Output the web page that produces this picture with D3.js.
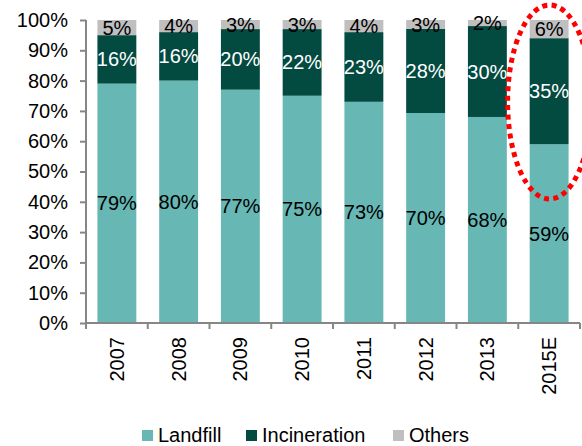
<!DOCTYPE html>
<html>
<head>
<meta charset="utf-8">
<script src="https://cdn.jsdelivr.net/npm/d3@7"></script>
<style>
  html, body { margin: 0; padding: 0; background: #fff; }
  svg { display: block; }
  text { font-family: "Liberation Sans", Arial, sans-serif; }
</style>
</head>
<body>
<svg id="chart" width="582" height="446"></svg>
<script>
// Waste treatment mix by year (shares in %)
const years = ["2007", "2008", "2009", "2010", "2011", "2012", "2013", "2015E"];
const landfill = [79, 80, 77, 75, 73, 70, 68, 59];
const incineration = [16, 16, 20, 22, 23, 28, 30, 35];
const others = [5, 4, 3, 3, 4, 3, 2, 6];
const yTicks = [0, 0.1, 0.2, 0.3, 0.4, 0.5, 0.6, 0.7, 0.8, 0.9, 1.0];

const seriesNames = ["Landfill", "Incineration", "Others"];
const seriesValues = [landfill, incineration, others];
const colors = ["#67b7b5", "#034a41", "#bfbfbf"];
const labelColors = ["#000", "#fff", "#000"];
const highlightYear = "2015E";

const rows = years.map((y, i) => {
  const r = { year: y };
  seriesNames.forEach((s, k) => { r[s] = seriesValues[k][i]; });
  return r;
});

const stack = d3.stack().keys(seriesNames).offset(d3.stackOffsetExpand);
const layers = stack(rows);

const svg = d3.select("#chart");
const plotLeft = 86, plotRight = 580, plotTop = 20, plotBottom = 323;
const fontSize = 20;

const x = d3.scaleBand().domain(years).range([plotLeft, plotRight]).paddingInner(0.37).paddingOuter(0.185);
const y = d3.scaleLinear().domain([0, 1]).range([plotBottom, plotTop]);

// bars
layers.forEach((layer, k) => {
  svg.append("g").selectAll("rect").data(layer).join("rect")
    .attr("x", d => x(d.data.year))
    .attr("width", x.bandwidth())
    .attr("y", d => y(d[1]))
    .attr("height", d => y(d[0]) - y(d[1]))
    .attr("fill", colors[k]);
});

// value labels, centred in each segment
layers.forEach((layer, k) => {
  svg.append("g").selectAll("text").data(layer).join("text")
    .attr("x", d => x(d.data.year) + x.bandwidth() / 2)
    .attr("y", d => y((d[0] + d[1]) / 2))
    .attr("dy", "0.35em")
    .attr("text-anchor", "middle")
    .attr("font-size", fontSize)
    .attr("fill", labelColors[k])
    .text(d => d.data[seriesNames[k]] + "%");
});

// y axis
const yAxis = svg.append("g").attr("transform", `translate(${plotLeft},0)`)
  .call(d3.axisLeft(y).tickValues(yTicks).tickFormat(d3.format(".0%")).tickSize(6).tickPadding(12));
yAxis.selectAll("text").attr("font-size", fontSize).attr("fill", "#000")
  .attr("font-family", "Liberation Sans, Arial, sans-serif");

// x axis with ticks on band boundaries
const xAxis = svg.append("g").attr("transform", `translate(0,${plotBottom})`);
xAxis.append("line").attr("x1", plotLeft).attr("x2", plotRight).attr("y1", 0).attr("y2", 0);
const step = x.step();
xAxis.selectAll("line.tick").data(d3.range(years.length + 1)).join("line")
  .attr("class", "tick")
  .attr("x1", i => plotLeft + i * step).attr("x2", i => plotLeft + i * step)
  .attr("y1", 0).attr("y2", 6);
xAxis.selectAll("text").data(years).join("text")
  .attr("transform", d => `translate(${x(d) + x.bandwidth() / 2},14) rotate(-90)`)
  .attr("dy", "0.35em")
  .attr("text-anchor", "end")
  .attr("font-size", fontSize)
  .attr("fill", "#000")
  .text(d => d);

svg.selectAll(".domain, g line").attr("stroke", "#868686").attr("stroke-width", 2);
yAxis.select(".domain").attr("d", `M0,${plotTop}V${plotBottom}`).attr("fill", "none");

// dotted highlight around the estimate
const hx = x(highlightYear) + x.bandwidth() / 2;
svg.append("ellipse")
  .attr("cx", hx + 0.5).attr("cy", 102)
  .attr("rx", 42).attr("ry", 97)
  .attr("fill", "none")
  .attr("stroke", "#ff0000")
  .attr("stroke-width", 5)
  .attr("stroke-dasharray", "5 4.5");

// legend
const legendX = [142, 246, 393];
const legend = svg.append("g");
seriesNames.forEach((s, k) => {
  legend.append("rect").attr("x", legendX[k]).attr("y", 430).attr("width", 11).attr("height", 11).attr("fill", colors[k]);
  legend.append("text").attr("x", legendX[k] + 16).attr("y", 442)
    .attr("font-size", fontSize).attr("fill", "#000").text(s);
});
</script>
</body>
</html>
